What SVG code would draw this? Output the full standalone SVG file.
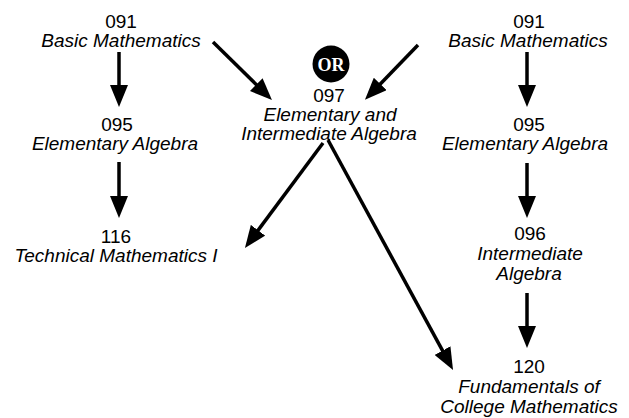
<svg xmlns="http://www.w3.org/2000/svg" width="629" height="418" viewBox="0 0 629 418">
<style>
text{font-family:"Liberation Sans",Arial,sans-serif;font-size:19px;fill:#000;text-anchor:middle}
.t{font-style:italic}
.or{font-family:"Liberation Serif","Times New Roman",serif;font-weight:bold;font-size:18px;fill:#fff}
.c{stroke:#000;stroke-width:3.5;fill:none}
</style>
<defs>
<marker id="ah" markerUnits="userSpaceOnUse" markerWidth="22" markerHeight="18" refX="10" refY="9" orient="auto" viewBox="0 0 22 18">
<path d="M0,0 L22,9 L0,18 z" fill="#000"/>
</marker>
</defs>
<rect width="629" height="418" fill="#fff"/>
<g id="n091a"><text x="121" y="28">091</text><text class="t" x="121" y="47">Basic Mathematics</text></g>
<g id="n095a"><text x="117" y="131">095</text><text class="t" x="115" y="150">Elementary Algebra</text></g>
<g id="n116"><text x="116" y="243">116</text><text class="t" x="116" y="262">Technical Mathematics I</text></g>
<g id="nor"><circle cx="331" cy="64" r="18.5" fill="#000"/><text class="or" x="331" y="70.5">OR</text></g>
<g id="n097"><text x="329" y="102">097</text><text class="t" x="330" y="121">Elementary and</text><text class="t" x="329" y="140">Intermediate Algebra</text></g>
<g id="n091b"><text x="529" y="28">091</text><text class="t" x="528" y="47">Basic Mathematics</text></g>
<g id="n095b"><text x="529" y="131">095</text><text class="t" x="525" y="150">Elementary Algebra</text></g>
<g id="n096"><text x="530" y="240">096</text><text class="t" x="530" y="260">Intermediate</text><text class="t" x="529" y="280">Algebra</text></g>
<g id="n120"><text x="529" y="373">120</text><text class="t" x="529" y="393">Fundamentals of</text><text class="t" x="529" y="413">College Mathematics</text></g>
<g id="connectors">
<line class="c" x1="119" y1="52" x2="119" y2="95" marker-end="url(#ah)"/>
<line class="c" x1="119" y1="162" x2="119" y2="206" marker-end="url(#ah)"/>
<line class="c" x1="527" y1="52" x2="527" y2="95" marker-end="url(#ah)"/>
<line class="c" x1="527" y1="163" x2="527" y2="206" marker-end="url(#ah)"/>
<line class="c" x1="527" y1="293" x2="527" y2="336" marker-end="url(#ah)"/>
<line class="c" x1="213" y1="42" x2="263.4" y2="91.6" marker-end="url(#ah)"/>
<line class="c" x1="418" y1="45" x2="373.3" y2="91.2" marker-end="url(#ah)"/>
<line class="c" x1="323" y1="143" x2="252.1" y2="238.3" marker-end="url(#ah)"/>
<line class="c" x1="328" y1="140" x2="447.3" y2="359.4" marker-end="url(#ah)"/>
</g>
</svg>
